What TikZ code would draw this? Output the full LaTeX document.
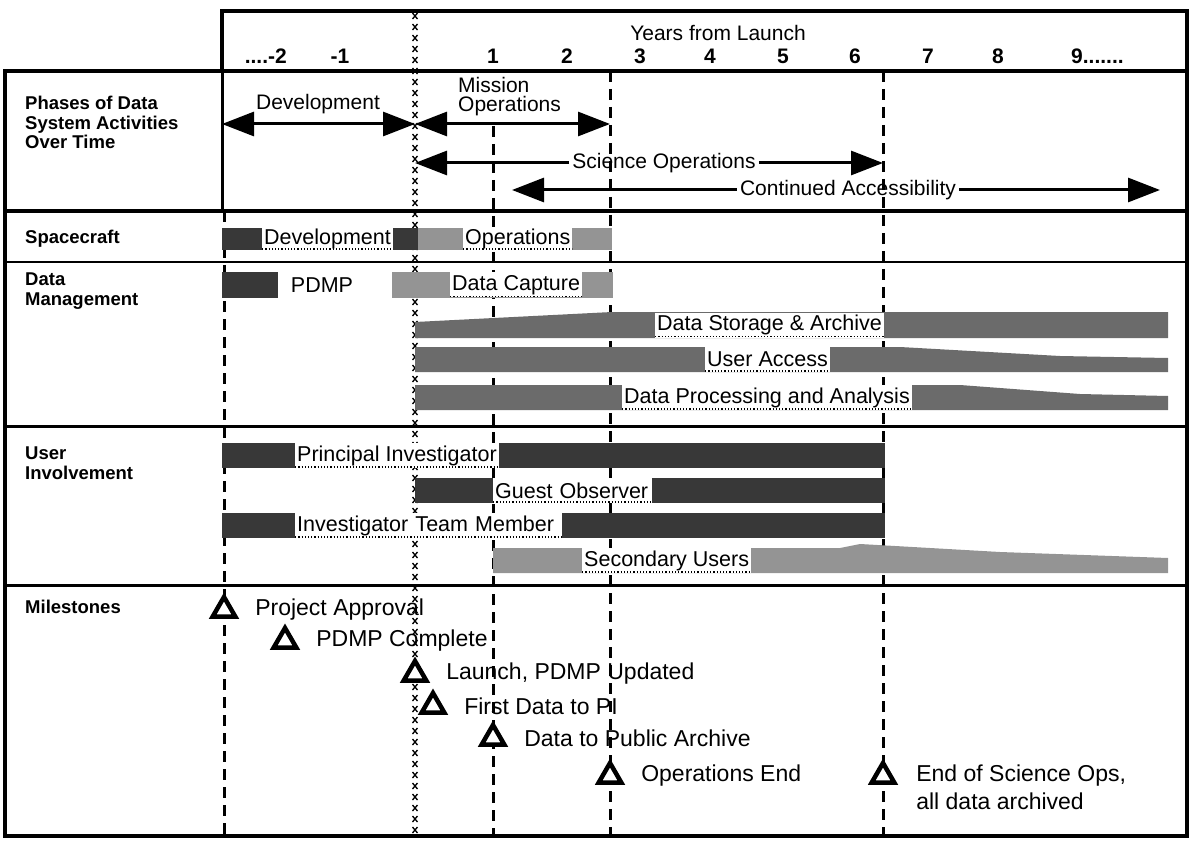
\documentclass[tikz,border=0pt]{standalone}
\usepackage{fontspec}
\setmainfont{Liberation Sans}
\usetikzlibrary{arrows.meta,positioning,shapes.geometric}

\tikzset{
    frame/.style={line width=4pt},
    sepline/.style={line width=3pt},
    dashline/.style={line width=3pt, dash pattern=on 11pt off 7pt},
    launchx/.style={line width=1.3pt},
    rowlabel/.style={font=\fontsize{18.5}{19.5}\selectfont\bfseries, align=left, anchor=north west, inner sep=0pt},
    yearlabel/.style={font=\fontsize{21}{21}\selectfont\bfseries, inner sep=0pt},
    phtext/.style={font=\fontsize{21}{19}\selectfont, inner sep=3pt},
    phasearrow/.style={line width=3pt, {Triangle[length=32pt,width=24pt]}-{Triangle[length=32pt,width=24pt]}},
    onearrow/.style={line width=3pt, -{Triangle[length=32pt,width=24pt]}},
    darkbar/.style={fill=black!78},
    medbar/.style={fill=black!58},
    lightbar/.style={fill=black!42},
    bartext/.style={fill=white, anchor=west, inner xsep=2pt, inner ysep=0pt, minimum height=25pt,
        font=\fontsize{21.5}{25}\selectfont,
        path picture={\draw[dotted, line width=1.2pt]
            ([yshift=1pt]path picture bounding box.south west) -- ([yshift=1pt]path picture bounding box.south east);}},
    mtri/.style={regular polygon, regular polygon sides=3, draw, fill=white, line width=4.5pt,
        minimum size=26pt, inner sep=0pt},
    mtext/.style={font=\fontsize{23}{30}\selectfont, inner sep=1pt}
}

\begin{document}
\begin{tikzpicture}[x=1pt, y=-1pt]
    % --- 1. Parameters ---
    \def\xL{5}
    \def\xC{222}
    \def\xR{1187}
    \def\yTop{11}
    \def\yHead{71}
    \def\yPh{211}
    \def\ySc{262}
    \def\yDm{426}
    \def\yUi{585}
    \def\yBot{836}
    \def\xApp{224}
    \def\xLaunch{415}
    \def\xYrOne{493}
    \def\xOpsEnd{610}
    \def\xSciEnd{883}
    \useasboundingbox (0,0) rectangle (1191,842);

    % --- 2. Time lines ---
    \draw[dashline] (\xApp,\yPh) -- (\xApp,\yBot);
    \draw[dashline] (\xYrOne,126) -- (\xYrOne,\yBot);
    \draw[dashline] (\xOpsEnd,\yHead) -- (\xOpsEnd,\yBot);
    \draw[dashline] (\xSciEnd,\yHead) -- (\xSciEnd,\yBot);
    \foreach \yy in {16,27,...,830}
        \draw[launchx] (\xLaunch-2.5,\yy-3) -- (\xLaunch+2.5,\yy+3)
                       (\xLaunch-2.5,\yy+3) -- (\xLaunch+2.5,\yy-3);

    % --- 3. Header ---
    \node[font=\fontsize{21}{21}\selectfont] (yfl) at (718,33) {Years from Launch};
    \node[yearlabel, anchor=east] (ym2) at (287,56) {....-2};
    \node[yearlabel] (ym1) at (340,56) {-1};
    \foreach \yr/\xx in {1/493,2/567,3/640,4/710,5/783,6/855,7/928,8/998}
        \node[yearlabel] (yr\yr) at (\xx,56) {\yr};
    \node[yearlabel, anchor=west] (yr9) at (1071,56) {9.......};

    % --- 4. Phases ---
    \coordinate (devL) at (\xC,124);
    \coordinate (lnchP) at (\xLaunch,124);
    \coordinate (opsP) at (\xOpsEnd,124);
    \draw[phasearrow] (devL) -- (lnchP);
    \draw[phasearrow] (lnchP) -- (opsP);
    \node[phtext] (devTxt) at (318,104) {Development};
    \node[phtext, align=left, anchor=west] (misTxt) at (455,97) {Mission\\Operations};
    \coordinate (sciL) at (\xLaunch,163);
    \coordinate (sciR) at (\xSciEnd,163);
    \node[phtext] (sciTxt) at (664,163) {Science Operations};
    \draw[onearrow] (sciTxt.west) -- (sciL);
    \draw[onearrow] (sciTxt.east) -- (sciR);
    \coordinate (contL) at (512,190);
    \coordinate (contR) at (1160,190);
    \node[phtext] (contTxt) at (848,190) {Continued Accessibility};
    \draw[onearrow] (contTxt.west) -- (contL);
    \draw[onearrow] (contTxt.east) -- (contR);

    % --- 5. Spacecraft ---
    \fill[darkbar] (\xC,228) rectangle (418,250);
    \fill[lightbar] (418,228) rectangle (612,250);
    \node[bartext, minimum height=22pt] (scDev) at (262,239) {Development};
    \node[bartext, minimum height=22pt] (scOps) at (463,239) {Operations};

    % --- 6. Data management ---
    \fill[darkbar] (\xC,272) rectangle (278,298);
    \node[font=\fontsize{21.5}{21}\selectfont] (pdmp) at (322,285) {PDMP};
    \fill[lightbar] (392,272) rectangle (613,298);
    \node[bartext] (dcap) at (450,285) {Data Capture};
    \fill[medbar] (\xLaunch,322) -- (612,312) -- (1168,312) -- (1168,338) -- (\xLaunch,338) -- cycle;
    \node[bartext] (dsa) at (655,325) {Data Storage \& Archive};
    \fill[medbar] (\xLaunch,347) -- (900,347) -- (1060,356) -- (1168,358) -- (1168,372) -- (\xLaunch,372) -- cycle;
    \node[bartext] (uacc) at (705,359.5) {User Access};
    \fill[medbar] (\xLaunch,385) -- (960,385) -- (1080,394) -- (1168,396) -- (1168,410) -- (\xLaunch,410) -- cycle;
    \node[bartext] (dpa) at (622,397.5) {Data Processing and Analysis};

    % --- 7. User involvement ---
    \fill[darkbar] (\xC,443) rectangle (885,468);
    \node[bartext] (pi) at (295,455.5) {Principal Investigator};
    \fill[darkbar] (\xLaunch,478) rectangle (885,503);
    \node[bartext, text width=155pt] (gobs) at (493,490.5) {Guest Observer};
    \fill[darkbar] (\xC,513) rectangle (885,538);
    \node[bartext, text width=263pt] (itm) at (295,525.5) {Investigator Team Member};
    \fill[lightbar] (\xYrOne,548) -- (840,548) -- (860,544) -- (1000,552) -- (1168,558) -- (1168,573) -- (\xYrOne,573) -- cycle;
    \node[bartext] (secu) at (582,560.5) {Secondary Users};

    % --- 8. Milestones ---
    \node[mtri] (m1) at (\xApp,610) {};
    \node[mtext, right=20pt of m1] (m1t) {Project Approval};
    \node[mtri] (m2) at (285,641) {};
    \node[mtext, right=20pt of m2] (m2t) {PDMP Complete};
    \node[mtri] (m3) at (\xLaunch,674) {};
    \node[mtext, right=20pt of m3] (m3t) {Launch, PDMP Updated};
    \node[mtri] (m4) at (433,706) {};
    \node[mtext, right=20pt of m4] (m4t) {First Data to PI};
    \node[mtri] (m5) at (\xYrOne,738) {};
    \node[mtext, right=20pt of m5] (m5t) {Data to Public Archive};
    \node[mtri] (m6) at (\xOpsEnd,776) {};
    \node[mtext, right=20pt of m6] (m6t) {Operations End};
    \node[mtri] (m7) at (\xSciEnd,776) {};
    \node[mtext, right=22pt of m7] (m7t) {End of Science Ops,};
    \node[mtext, below=4pt of m7t.south west, anchor=north west] (m7u) {all data archived};

    % --- 9. Frames and row labels ---
    \draw[frame] (\xC,\yHead) -- (\xC,\yTop) -- (\xR,\yTop) -- (\xR,\yHead);
    \draw[frame] (\xL,\yHead) rectangle (\xR,\yBot);
    \draw[frame] (\xL,\yPh) -- (\xR,\yPh);
    \draw[sepline] (\xC,\yHead) -- (\xC,\yPh);
    \draw[line width=2.5pt] (\xL,\ySc) -- (\xR,\ySc);
    \draw[sepline] (\xL,\yDm) -- (\xR,\yDm);
    \draw[sepline] (\xL,\yUi) -- (\xR,\yUi);
    \node[rowlabel] (lbPh) at (25,96) {Phases of Data\\System Activities\\Over Time};
    \node[rowlabel] (lbSc) at (25,230) {Spacecraft};
    \node[rowlabel] (lbDm) at (25,273) {Data\\Management};
    \node[rowlabel] (lbUi) at (25,447) {User\\Involvement};
    \node[rowlabel] (lbMs) at (25,600) {Milestones};
\end{tikzpicture}
\end{document}
